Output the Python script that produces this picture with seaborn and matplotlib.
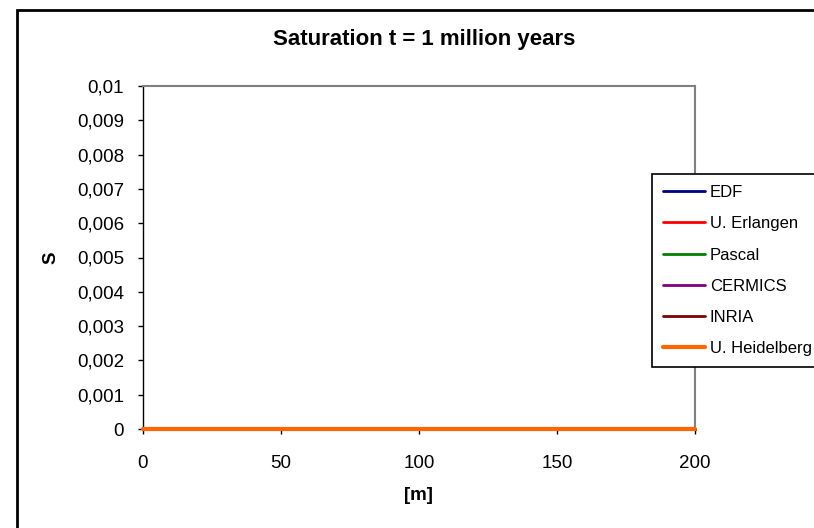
import matplotlib
matplotlib.use("Agg")
import matplotlib.pyplot as plt
from matplotlib.patches import Rectangle
from matplotlib.ticker import FixedLocator, FuncFormatter
import pandas as pd
import seaborn as sns

# Distance along the domain [m]
distance_m = [0, 50, 100, 150, 200]

# Saturation S at t = 1 million years, per code
s_edf = [0, 0, 0, 0, 0]
s_erlangen = [0, 0, 0, 0, 0]
s_pascal = [0, 0, 0, 0, 0]
s_cermics = [0, 0, 0, 0, 0]
s_inria = [0, 0, 0, 0, 0]
s_heidelberg = [0, 0, 0, 0, 0]

series_names = ["EDF", "U. Erlangen", "Pascal", "CERMICS", "INRIA", "U. Heidelberg"]
series_values = [s_edf, s_erlangen, s_pascal, s_cermics, s_inria, s_heidelberg]
series_colors = ["#000080", "#FF0000", "#008000", "#800080", "#800000", "#FF6600"]
series_widths = [2.0, 2.0, 2.0, 2.0, 2.0, 3.0]

x_ticks = [0, 50, 100, 150, 200]
y_ticks = [0, 0.001, 0.002, 0.003, 0.004, 0.005, 0.006, 0.007, 0.008, 0.009, 0.01]

sns.set_theme(style="white")
plt.rcParams["font.family"] = ["Liberation Sans", "DejaVu Sans"]
plt.rcParams["text.color"] = "black"
plt.rcParams["axes.labelcolor"] = "black"
plt.rcParams["xtick.color"] = "black"
plt.rcParams["ytick.color"] = "black"

W, H = 814, 528
fig = plt.figure(figsize=(W / 100, H / 100), dpi=100)
fig.patch.set_facecolor("white")

# Chart-area frame around the whole figure
frame = Rectangle((17 / W, -0.05), 1.2, 1 - 10 / H + 0.05,
                  transform=fig.transFigure, fill=False,
                  edgecolor="black", linewidth=2.0, clip_on=False)
fig.patches.append(frame)

ax = fig.add_axes([143 / W, 1 - 429 / H, (695 - 143) / W, (429 - 86) / H])
ax.set_facecolor("white")

df = pd.DataFrame({
    "m": distance_m * len(series_names),
    "S": [v for vals in series_values for v in vals],
    "code": [n for n in series_names for _ in distance_m],
})

for name, color, lw in zip(series_names, series_colors, series_widths):
    sub = df[df["code"] == name]
    sns.lineplot(data=sub, x="m", y="S", color=color, linewidth=lw,
                 label=name, ax=ax, clip_on=False, zorder=3)

ax.set_xlim(0, 200)
ax.set_ylim(0, 0.01)
ax.xaxis.set_major_locator(FixedLocator(x_ticks))
ax.yaxis.set_major_locator(FixedLocator(y_ticks))


def comma_fmt(v, _pos):
    return f"{round(v, 6):g}".replace(".", ",")


ax.yaxis.set_major_formatter(FuncFormatter(comma_fmt))
ax.xaxis.set_major_formatter(FuncFormatter(comma_fmt))

ax.tick_params(axis="both", which="major", direction="out", length=3.6, width=1,
               color="black", labelsize=13.5, labelcolor="black")
ax.tick_params(axis="x", pad=15.3)
ax.tick_params(axis="y", pad=10)
ax.xaxis.set_ticks_position("bottom")
ax.yaxis.set_ticks_position("left")

for side in ["top", "right"]:
    ax.spines[side].set_color("#808080")
    ax.spines[side].set_linewidth(1.5)
for side in ["left", "bottom"]:
    ax.spines[side].set_color("black")
    ax.spines[side].set_linewidth(1.0)

ax.set_xlabel("")
ax.set_ylabel("")
fig.text(418.5 / W, 1 - 495.5 / H, "[m]", ha="center", va="center",
         fontsize=13.5, fontweight="bold")
fig.text(51 / W, 1 - 258 / H, "S", ha="center", va="center", rotation=90,
         fontsize=13.5, fontweight="bold")

fig.text(424 / W, 1 - 45 / H, "Saturation t = 1 million years",
         ha="center", va="baseline", fontsize=16, fontweight="bold")

leg = ax.legend(loc="upper left", bbox_to_anchor=(652 / W, 1 - 174 / H),
                bbox_transform=fig.transFigure, frameon=True, fancybox=False,
                fontsize=12, handlelength=2.5, handletextpad=0.3,
                labelspacing=0.975, borderpad=0.66, borderaxespad=0)
leg.get_frame().set_edgecolor("black")
leg.get_frame().set_linewidth(1.2)
leg.get_frame().set_facecolor("white")
leg.get_frame().set_alpha(1)
leg.set_zorder(10)

fig.savefig("out.png", dpi=100, facecolor="white")
